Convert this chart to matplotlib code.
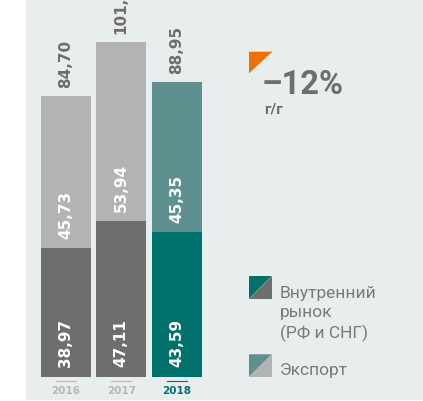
import matplotlib
matplotlib.use("Agg")
import matplotlib.pyplot as plt
from matplotlib.patches import Rectangle, Polygon

plt.rcParams['font.family'] = ['Roboto', 'DejaVu Sans']

years = ["2016", "2017", "2018"]
domestic = [38.97, 47.11, 43.59]
export = [45.73, 53.94, 45.35]
totals = [84.70, 101.05, 88.95]
total_labels = ["84,70", "101,05", "88,95"]
domestic_labels = ["38,97", "47,11", "43,59"]
export_labels = ["45,73", "53,94", "45,35"]
change_text = "–12%"
change_sub = "г/г"
legend_labels = ["Внутренний\nрынок\n(РФ и СНГ)", "Экспорт"]

c_dom = ["#6e6e6e", "#6e6e6e", "#00706b"]
c_exp = ["#b3b3b3", "#b3b3b3", "#5f9090"]
c_year = ["#b8b8b8", "#b8b8b8", "#00706b"]
panel = "#e8eeee"
W, H = 423, 401
numfont = ["DejaVu Sans"]

fig = plt.figure(figsize=(W/100, H/100), dpi=100)
fig.patch.set_facecolor("white")
fig.patches.append(Rectangle((26/W, 1/H), 1 - 26/W, 1 - 1/H, transform=fig.transFigure,
                             facecolor=panel, edgecolor="none", zorder=-5))

# axes covering pixel range x 26..220, full height
ax = fig.add_axes([26/W, 0, (220-26)/W, 1])
ax.set_zorder(2)
ax.patch.set_alpha(0)
pxx = 55.5
pxy = 3.314
x0 = 65.7
ybase = 376.7
ax.set_xlim(-(x0-26)/pxx, (220-x0)/pxx)
ax.set_ylim(-(H-ybase)/pxy, ybase/pxy)
ax.axis("off")

xs = list(range(len(years)))
bw = 50/pxx
ax.bar(xs, domestic, width=bw, color=c_dom, zorder=2)
ax.bar(xs, export, width=bw, bottom=domestic, color=c_exp, zorder=2)

for i in xs:
    ax.text(i, totals[i] + 8/pxy, total_labels[i], rotation=90, ha="center", va="bottom",
            color="#6e6e6e", fontsize=11, fontweight="bold", family=numfont, zorder=3)
    ax.text(i, 10/pxy, domestic_labels[i], rotation=90, ha="center", va="bottom",
            color="white", fontsize=11, fontweight="bold", family=numfont, zorder=3)
    ax.text(i, domestic[i] + 9/pxy, export_labels[i], rotation=90, ha="center", va="bottom",
            color="white", fontsize=11, fontweight="bold", family=numfont, zorder=3)
    ax.text(i, -(391 - ybase)/pxy, years[i], ha="center", va="center",
            color=c_year[i], fontsize=7.5, fontweight="bold", family=numfont, zorder=3)
    ax.plot([i - 10/pxx, i + 10/pxx], [-(381 - ybase)/pxy]*2, color=c_year[i], lw=0.8, zorder=3)

def fx(px):
    return px / W

def fy(py):
    return 1 - py / H

# orange triangle
fig.patches.append(Polygon([(fx(249), fy(51.7)), (fx(272.3), fy(51.7)), (fx(249), fy(73.3))],
                           closed=True, transform=fig.transFigure, facecolor="#f07000",
                           edgecolor="none", zorder=3))
fig.text(fx(262), fy(93.5), change_text, ha="left", va="baseline", color="#6e6e6e",
         fontsize=23.5, fontweight="bold")
fig.text(fx(264), fy(113), change_sub, ha="left", va="baseline", color="#6e6e6e",
         fontsize=11, fontweight="bold")

# legend squares split diagonally
def split_square(xl, yt, size, c1, c2):
    x1, x2 = fx(xl), fx(xl + size)
    y1, y2 = fy(yt), fy(yt + size)
    fig.patches.append(Polygon([(x1, y1), (x2, y1), (x1, y2)], closed=True,
                               transform=fig.transFigure, facecolor=c1, edgecolor="none", zorder=3))
    fig.patches.append(Polygon([(x2, y1), (x2, y2), (x1, y2)], closed=True,
                               transform=fig.transFigure, facecolor=c2, edgecolor="none", zorder=3))

split_square(249, 276, 22.7, "#00706b", "#6e6e6e")
split_square(249, 354.3, 22.7, "#5f9090", "#b3b3b3")
fig.text(fx(280), fy(286), legend_labels[0], ha="left", va="top", color="#7a7a7a",
         fontsize=12.5, linespacing=1.33)
fig.text(fx(280), fy(370), legend_labels[1], ha="left", va="center", color="#7a7a7a",
         fontsize=12.5)

fig.savefig("out.png", dpi=100, facecolor=fig.get_facecolor())
